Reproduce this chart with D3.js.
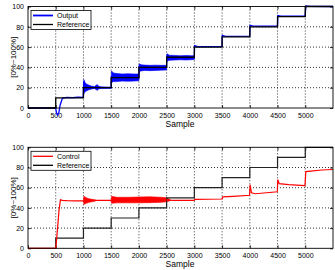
<!DOCTYPE html>
<html><head><meta charset="utf-8">
<script src="https://cdn.jsdelivr.net/npm/d3@7"></script>
<style>body{margin:0;background:#fff}svg{display:block}text{font-family:"Liberation Sans",Arial,sans-serif;fill:#000}</style>
</head><body>
<script>
// ---------- data ----------
const xTicks = [0,500,1000,1500,2000,2500,3000,3500,4000,4500,5000];
const yTicks = [0,20,40,60,80,100];
const refX = [0,500,1000,1500,2000,2500,3000,3500,4000,4500,5000,5500];
const refY = [0,10,20,30,40,50,60,70,80,90,100,100];

const outX = [0,500,510,530,555,580,620,700,800,900,995,1005,1030,1080,1200,1300,1400,1498,1505,1560,1998,2005,2060,2498,2505,2560,2998,3005,3060,3498,3505,3560,3998,4005,4060,4498,4505,4560,4998,5010,5080,5500];
const outY = [0,0,-4,-7,-5,3,9.5,10.5,10.2,10.6,10.4,26,22,20.5,20,20.2,20,20,31,30,30,41,40,40,51,50,50,61.5,60.5,60.8,71.5,70.6,70.8,81.5,80.6,80.8,91,90.4,90.6,100.5,100.2,100];

const bandAX = [1000,1008,1030,1060,1100,1150,1200,1230,1250,1280,1330,1500];
const bandAHi = [20,28,25,23.5,22.5,21.5,21.2,22.5,23,21.2,20.8,20.6];
const bandALo = [12,14,16,17,18,18.8,19.2,18,17.5,19,19.3,19.4];
const bandBX = [1500,1506,1540,1600,1700,1800,1900,2000];
const bandBHi = [24,36.5,34.5,34,33.5,33.8,33.5,33.5];
const bandBLo = [24,25,26,26,26.5,26.3,26.5,26.8];
const bandCX = [2000,2006,2040,2100,2200,2300,2400,2500];
const bandCHi = [34,43.5,42.5,42.3,42,42.2,42,42];
const bandCLo = [34,36,36.5,37,36.8,37,37.3,37.5];
const bandDX = [2500,2506,2550,2650,2750,2850,2950,3000];
const bandDHi = [45,53.5,52,51.8,51.5,51.8,51.5,51.5];
const bandDLo = [45,46.2,47,47.3,47.5,47.3,47.6,47.8];

const ctrlX = [0,500,515,560,585,620,700,850,1000,1200,1500,2500,2600,3000,3010,3500,3510,3700,3995,4005,4030,4100,4300,4495,4505,4530,4700,4995,5010,5100,5300,5500];
const ctrlY = [0,0,8,38,48,47.5,47.2,47,47,47.5,47.5,48,47.5,47.5,48.5,48.8,51,51.5,52.5,63,55,54,55,56,68,64,63,62,76,76.5,77.5,78];
const rBandAX = [1000,1008,1050,1100,1150,1220];
const rBandAHi = [47,51.5,50,49,48.5,47.8];
const rBandALo = [47,43.5,44.5,45.5,46,46.8];
const rBandBX = [1500,1508,1600,1800,2000,2200,2400,2500,2560];
const rBandBHi = [47.5,51.5,50.5,50.5,50.8,51,50.5,50,48.2];
const rBandBLo = [47.5,44.5,45,45,45,45.2,45.5,46,47];

// ---------- drawing ----------
const W = 335, H = 270;
const svg = d3.select("body").append("svg").attr("width", W).attr("height", H);

function panel(top, bottom, series, bands, legend) {
  const x = d3.scaleLinear().domain([0,5500]).range([28,333]);
  const y = d3.scaleLinear().domain([0,100]).range([bottom, top]);
  const g = svg.append("g");
  // grid
  g.append("g").selectAll("line").data(xTicks.slice(1)).join("line")
    .attr("x1", d=>x(d)).attr("x2", d=>x(d)).attr("y1", top).attr("y2", bottom)
    .attr("stroke","#000").attr("stroke-width",0.8).attr("stroke-dasharray","1,2");
  g.append("g").selectAll("line").data(yTicks.slice(1,-1)).join("line")
    .attr("y1", d=>y(d)).attr("y2", d=>y(d)).attr("x1", 28).attr("x2", 333)
    .attr("stroke","#000").attr("stroke-width",0.8).attr("stroke-dasharray","1,2");
  // axes (inward ticks)
  const xb = d3.axisBottom(x).tickValues(xTicks).tickSizeInner(-3).tickSizeOuter(0).tickPadding(5).tickFormat(d3.format("d"));
  const xt = d3.axisTop(x).tickValues(xTicks).tickSizeInner(-3).tickSizeOuter(0).tickFormat("");
  const yl = d3.axisLeft(y).tickValues(yTicks).tickSizeInner(-3).tickSizeOuter(0).tickPadding(4);
  const yr = d3.axisRight(y).tickValues(yTicks).tickSizeInner(-3).tickSizeOuter(0).tickFormat("");
  const ax = [
    g.append("g").attr("transform",`translate(0,${bottom})`).call(xb),
    g.append("g").attr("transform",`translate(0,${top})`).call(xt),
    g.append("g").attr("transform",`translate(28,0)`).call(yl),
    g.append("g").attr("transform",`translate(333,0)`).call(yr)];
  ax.forEach(a => { a.select(".domain").remove(); a.selectAll("line").attr("stroke","#000").attr("stroke-width",0.8);
    a.selectAll("text").attr("font-size",7).style("font-family","Liberation Sans, Arial, sans-serif"); });
  // bands
  bands.forEach(b => {
    const area = d3.area().x((d,i)=>x(b.x[i])).y0((d,i)=>y(b.lo[i])).y1((d,i)=>y(b.hi[i]));
    g.append("path").attr("d", area(b.x)).attr("fill", b.color).attr("stroke", b.color).attr("stroke-width",0.6);
  });
  // series
  series.forEach(s => {
    const line = d3.line().x((d,i)=>x(s.x[i])).y((d,i)=>y(s.y[i])).curve(s.step ? d3.curveStepAfter : d3.curveLinear);
    g.append("path").attr("d", line(s.x)).attr("fill","none").attr("stroke", s.color).attr("stroke-width", s.w);
  });
  // frame
  g.append("rect").attr("x",28).attr("y",top).attr("width",305).attr("height",bottom-top)
    .attr("fill","none").attr("stroke","#000").attr("stroke-width",0.9);
  // labels
  g.append("text").attr("x",180).attr("y",bottom+19).attr("text-anchor","middle").attr("font-size",8.5).text("Sample");
  g.append("text").attr("transform",`translate(16,${(top+bottom)/2}) rotate(-90)`).attr("text-anchor","middle")
    .attr("font-size",8).text("[0%~100%]");
  // legend
  const lg = g.append("g").attr("transform",`translate(31,${top+4})`);
  lg.append("rect").attr("width",60).attr("height",19).attr("fill","#fff").attr("stroke","#000").attr("stroke-width",0.8);
  legend.forEach((it,i) => {
    const yy = 5 + i*9;
    lg.append("line").attr("x1",2).attr("x2",22).attr("y1",yy).attr("y2",yy).attr("stroke",it.color).attr("stroke-width",it.w);
    lg.append("text").attr("x",26).attr("y",yy+2.5).attr("font-size",7).text(it.label);
  });
}

panel(6.5, 108,
  [{x:outX, y:outY, color:"#0000ff", w:1.3},
   {x:refX, y:refY, color:"#000", w:1.3, step:true}],
  [{x:bandAX, hi:bandAHi, lo:bandALo, color:"#0000ff"},
   {x:bandBX, hi:bandBHi, lo:bandBLo, color:"#0000ff"},
   {x:bandCX, hi:bandCHi, lo:bandCLo, color:"#0000ff"},
   {x:bandDX, hi:bandDHi, lo:bandDLo, color:"#0000ff"}],
  [{label:"Output", color:"#0000ff", w:1.8},{label:"Reference", color:"#000", w:1.3}]);

panel(147.3, 248.3,
  [{x:refX, y:refY, color:"#222", w:1.2, step:true},
   {x:ctrlX, y:ctrlY, color:"#ff0000", w:1.2}],
  [{x:rBandAX, hi:rBandAHi, lo:rBandALo, color:"#ff0000"},
   {x:rBandBX, hi:rBandBHi, lo:rBandBLo, color:"#ff0000"}],
  [{label:"Control", color:"#ff0000", w:1.3},{label:"Reference", color:"#000", w:1.3}]);
</script>
</body></html>
